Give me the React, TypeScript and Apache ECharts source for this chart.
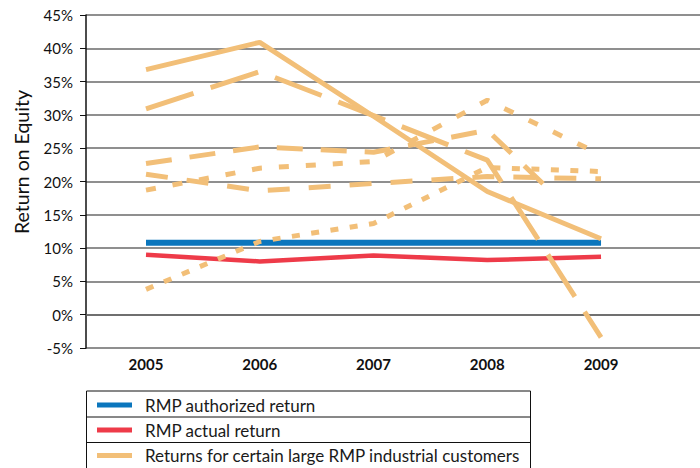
import React, { useEffect, useRef } from "react";
import * as echarts from "echarts";

const years = [2005, 2006, 2007, 2008, 2009];
const authorizedReturn = [10.8, 10.8, 10.8, 10.8, 10.8];
const actualReturn = [9.0, 8.0, 8.9, 8.2, 8.7];
const customerA = [36.8, 40.9, 29.8, 18.5, 11.4];
const customerB = [30.9, 36.5, 29.9, 23.2, -3.4];
const customerCYears = [2005, 2006, 2007, 2008, 2008.5];
const customerC = [22.7, 25.2, 24.4, 27.7, 19.5];
const customerD = [18.7, 22.0, 23.0, 32.2, 24.0];
const customerE = [21.1, 18.6, 19.7, 20.75, 20.4];
const customerF = [3.8, 11.0, 13.7, 22.1, 21.5];
const legendLabels = [
  "RMP authorized return",
  "RMP actual return",
  "Returns for certain large RMP industrial customers",
];
const yAxisTitle = "Return on Equity";

const BLUE = "#0B76BD";
const RED = "#EE3B49";
const ORANGE = "#F2BF78";

const pairs = (xs: number[], ys: number[]) => xs.map((x, i) => [x, ys[i]]);

export default function App() {
  const ref = useRef<HTMLDivElement>(null);
  useEffect(() => {
    if (!ref.current) return;
    const chart = echarts.init(ref.current, undefined, { renderer: "svg" });
    const orangeSeries = (name: string, xs: number[], ys: number[], dash: any) => ({
      name,
      type: "line",
      data: pairs(xs, ys),
      symbol: "none",
      lineStyle: { color: ORANGE, width: 5, type: dash, cap: "butt" },
      z: 3,
    });
    const legendColors = [BLUE, RED, ORANGE];
    const rowY = [405, 430, 455.5];
    const graphic: any[] = [
      {
        type: "text",
        x: 21,
        y: 162,
        rotation: Math.PI / 2,
        style: {
          text: yAxisTitle,
          fontFamily: "Lato",
          fontSize: 19.5,
          fill: "#111",
          textAlign: "center",
          textVerticalAlign: "middle",
        },
      },
      {
        type: "rect",
        shape: { x: 86.5, y: 391, width: 444, height: 80 },
        style: { fill: "none", stroke: "#111", lineWidth: 1 },
      },
      {
        type: "line",
        shape: { x1: 86.5, y1: 417, x2: 530.5, y2: 417 },
        style: { stroke: "#111", lineWidth: 1 },
      },
      {
        type: "line",
        shape: { x1: 86.5, y1: 442.5, x2: 530.5, y2: 442.5 },
        style: { stroke: "#111", lineWidth: 1 },
      },
    ];
    legendLabels.forEach((label, i) => {
      graphic.push({
        type: "line",
        shape: { x1: 97, y1: rowY[i], x2: 132, y2: rowY[i] },
        style: { stroke: legendColors[i], lineWidth: 5 },
      });
      graphic.push({
        type: "text",
        x: 145,
        y: rowY[i],
        style: {
          text: label,
          fontFamily: "Lato",
          fontSize: 17,
          fill: "#1a1a1a",
          textVerticalAlign: "middle",
        },
      });
    });

    chart.setOption({
      animation: false,
      backgroundColor: "#fff",
      grid: { left: 86, right: 0, top: 15, bottom: 120, containLabel: false },
      xAxis: {
        type: "value",
        min: 2004.4725,
        max: 2009.87,
        axisLine: { show: true, lineStyle: { color: "#666", width: 1.5 } },
        axisTick: { show: false },
        splitLine: { show: false },
        axisLabel: {
          customValues: years,
          formatter: (v: number) => String(v),
          fontFamily: "Lato",
          fontWeight: "bold",
          fontSize: 15,
          color: "#111",
          margin: 8,
        },
      },
      yAxis: {
        type: "value",
        min: -5,
        max: 45,
        interval: 5,
        axisLine: { show: true, lineStyle: { color: "#111", width: 1.5 } },
        axisTick: { show: true, length: 6, lineStyle: { color: "#111" } },
        splitLine: { show: true, lineStyle: { color: "#6a6a6a", width: 1.5 } },
        axisLabel: {
          formatter: "{value}%",
          fontFamily: "Lato",
          fontSize: 15,
          color: "#111",
          margin: 13,
        },
      },
      series: [
        {
          name: legendLabels[0],
          type: "line",
          data: pairs(years, authorizedReturn),
          symbol: "none",
          lineStyle: { color: BLUE, width: 6 },
          z: 2,
        },
        {
          name: legendLabels[1],
          type: "line",
          data: pairs(years, actualReturn),
          symbol: "none",
          lineStyle: { color: RED, width: 4.5 },
          z: 2,
        },
        orangeSeries("A", years, customerA, "solid"),
        orangeSeries("B", years, customerB, [50, 18]),
        orangeSeries("C", customerCYears, customerC, [26, 18]),
        orangeSeries("D", years, customerD, [10, 17]),
        orangeSeries("E", years, customerE, [22, 19]),
        orangeSeries("F", years, customerF, [8, 11.5]),
      ],
      graphic,
    });
    return () => chart.dispose();
  }, []);
  return (
    <div
      ref={ref}
      style={{ position: "fixed", left: 0, top: 0, width: 700, height: 468 }}
    />
  );
}
